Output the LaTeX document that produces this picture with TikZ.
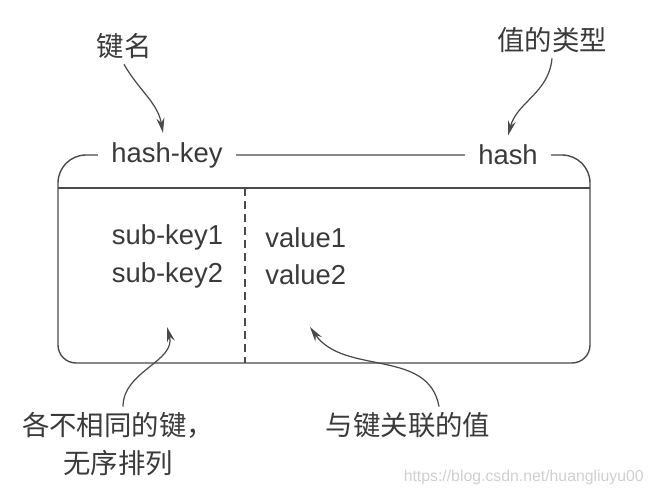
\documentclass[tikz,border=0pt]{standalone}
\usepackage{fontspec}
\setmainfont{Liberation Sans}
\newfontfamily\cjk{Noto Sans CJK SC}
\usetikzlibrary{arrows.meta}
\definecolor{inkc}{HTML}{3A3A3A}
\definecolor{linegrey}{HTML}{4A4A4A}
\definecolor{markgrey}{HTML}{CFCFCF}

\begin{document}
\begin{tikzpicture}[
        txt/.style={font=\fontsize{15.6}{18}\selectfont, text=inkc, inner sep=0pt},
        tagbox/.style={txt, fill=white, inner xsep=0.26cm, inner ysep=0.18cm},
        note/.style={font=\cjk\fontsize{15.6}{21.6}\selectfont, text=inkc, align=center, inner sep=3pt},
        ptr/.style={-{Stealth[length=3mm, width=1.6mm]}, line width=0.7pt, draw=linegrey},
        frame/.style={draw=linegrey, line width=0.8pt}]
      \useasboundingbox (0,0) rectangle (13.14,-9.9);
      % the hash box
      \draw[frame] (1.16,-5) [rounded corners=0.56cm] -- (1.16,-3.1) -- (11.8,-3.1) -- (11.8,-5)
        [rounded corners=0.36cm] -- (11.8,-7.26) -- (1.16,-7.26) -- cycle;
      \draw[frame] (1.16,-3.76) -- (11.8,-3.76);
      \draw[frame, dash pattern=on 0.16cm off 0.1cm] (4.9,-3.76) -- (4.9,-7.26);
      \node[tagbox] (hashkey) at (3.34,-3.1) {hash-key};
      \node[tagbox] (hash) at (10.16,-3.1) {hash};
      \foreach \y/\n in {-4.75/1, -5.5/2}{
        \node[txt, anchor=east] (sk\n) at (4.47,\y) {sub-key\n};
        \node[txt, anchor=west] (val\n) at (5.3,\y) {value\n};
      }
      % labels
      \node[note] (kname) at (2.48,-0.92) {键名};
      \node[note] (vtype) at (11.04,-0.8) {值的类型};
      \node[note] (subnote) at (2.36,-8.88) {各不相同的键，\\无序排列};
      \node[note] (valnote) at (8.16,-8.5) {与键关联的值};
      \coordinate (skend) at (3.34,-6.54);
      \coordinate (valend) at (6.2,-6.54);
      \draw[ptr] (kname.south) to[out=-60, in=100] ([xshift=-0.08cm]hashkey.north);
      \draw[ptr] (vtype.south) to[out=-95, in=75] (hash.north);
      \draw[ptr] ([xshift=0.1cm]subnote.north) to[out=90, in=-75] (skend);
      \draw[ptr] ([xshift=0.62cm]valnote.north) to[out=100, in=-55] (valend);
      \node[font=\fontsize{9}{10}\selectfont, text=markgrey, anchor=east] (mark) at (13.0,-9.54) {https://blog.csdn.net/huangliuyu00};
    \end{tikzpicture}
\end{document}
